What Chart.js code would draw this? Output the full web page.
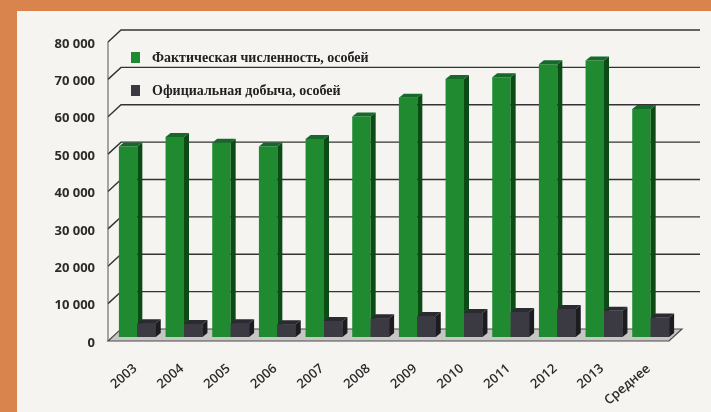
<!DOCTYPE html>
<html>
<head>
<meta charset="utf-8">
<script src="https://cdn.jsdelivr.net/npm/chart.js@4.4.1/dist/chart.umd.min.js"></script>
<style>
  html, body {
    margin: 0;
    padding: 0;
    width: 711px;
    height: 412px;
    overflow: hidden;
    background: #d9844c;
  }

  #paper {
    position: absolute;
    left: 17px;
    top: 11px;
    width: 694px;
    height: 401px;
    background: #f5f4f0;
  }

  #wrap {
    position: absolute;
    left: 0;
    top: 0;
    width: 711px;
    height: 412px;
  }
</style>
</head>
<body>
<div id="paper"></div>
<div id="wrap"><canvas id="mooseChart"></canvas></div>

<script>
const years = ["2003", "2004", "2005", "2006", "2007", "2008", "2009", "2010", "2011", "2012", "2013", "Среднее"];

const populationValues = [51000, 53500, 52000, 51000, 53000, 59000, 64000, 69000, 69500, 73000, 74000, 61000];

const harvestValues = [3700, 3500, 3700, 3400, 4300, 5000, 5600, 6400, 6700, 7500, 7000, 5200];

const seriesNames = ["Фактическая численность, особей", "Официальная добыча, особей"];

const yMax = 80000;
const yStep = 10000;

const faceColors = ["#1f8a2f", "#3b3a42"];
const sideColors = ["#0c4a16", "#1c1b20"];
const topColors = ["#16692a", "#2b2a30"];

function formatThousands(value) {
  return String(value).replace(/\B(?=(\d{3})+(?!\d))/g, " ");
}

// back wall, left wall and floor of the 3d box
const wallPlugin = {
  id: "wall",
  beforeDatasetsDraw(chart) {
    const ctx = chart.ctx;
    const yScale = chart.scales.y;
    const left = chart.chartArea.left - 6;
    const right = 700;
    const dx = 13;
    const dy = 12;

    ctx.save();

    // floor
    const floorFront = yScale.getPixelForValue(0) + 4;
    ctx.fillStyle = "#c6c6c4";
    ctx.beginPath();
    ctx.moveTo(left, floorFront);
    ctx.lineTo(left + dx, floorFront - dy);
    ctx.lineTo(right - 18, floorFront - dy);
    ctx.lineTo(right - 18 - dx, floorFront);
    ctx.closePath();
    ctx.fill();
    ctx.strokeStyle = "#4a4a4a";
    ctx.lineWidth = 1.2;
    ctx.stroke();

    // gridlines
    ctx.strokeStyle = "#333";
    ctx.lineWidth = 1.4;
    for (let v = yStep; v <= yMax; v += yStep) {
      const yf = yScale.getPixelForValue(v) + 4;
      ctx.beginPath();
      ctx.moveTo(left, yf);
      ctx.lineTo(left + dx, yf - dy);
      ctx.lineTo(right, yf - dy);
      ctx.stroke();
    }

    // left axis
    ctx.strokeStyle = "#555";
    ctx.lineWidth = 1;
    ctx.beginPath();
    ctx.moveTo(left, yScale.getPixelForValue(yMax) + 4);
    ctx.lineTo(left, floorFront);
    ctx.stroke();

    ctx.restore();
  },
};

function drawDepth(ctx, meta, index) {
  const dx = 5;
  const dy = 4;

  meta.data.forEach((bar) => {
    const props = bar.getProps(["x", "y", "base", "width"], true);
    const l = props.x - props.width / 2;
    const r = props.x + props.width / 2;

    ctx.fillStyle = sideColors[index];
    ctx.beginPath();
    ctx.moveTo(r, props.y);
    ctx.lineTo(r + dx, props.y - dy);
    ctx.lineTo(r + dx, props.base - dy);
    ctx.lineTo(r, props.base);
    ctx.closePath();
    ctx.fill();

    ctx.fillStyle = topColors[index];
    ctx.beginPath();
    ctx.moveTo(l, props.y);
    ctx.lineTo(l + dx, props.y - dy);
    ctx.lineTo(r + dx, props.y - dy);
    ctx.lineTo(r, props.y);
    ctx.closePath();
    ctx.fill();
  });
}

// side and top faces; the harvest bars go in front of the green side faces
const depthPlugin = {
  id: "depth",
  afterDatasetsDraw(chart) {
    const ctx = chart.ctx;

    ctx.save();

    drawDepth(ctx, chart.getDatasetMeta(0), 0);

    const harvestMeta = chart.getDatasetMeta(1);
    harvestMeta.data.forEach((bar) => bar.draw(ctx));
    drawDepth(ctx, harvestMeta, 1);

    ctx.restore();
  },
};

const legendPlugin = {
  id: "insideLegend",
  afterDatasetsDraw(chart) {
    const ctx = chart.ctx;

    ctx.save();
    ctx.font = "bold 14px 'Liberation Serif'";
    ctx.textBaseline = "middle";
    ctx.textAlign = "left";

    seriesNames.forEach((name, i) => {
      const y = 58 + i * 33;

      ctx.fillStyle = faceColors[i];
      ctx.fillRect(131, y - 6, 9, 11);

      ctx.fillStyle = "#222";
      ctx.fillText(name, 152, y);
    });

    ctx.restore();
  },
};

const canvas = document.getElementById("mooseChart");

new Chart(canvas, {
  type: "bar",

  data: {
    labels: years,

    datasets: [
      {
        label: seriesNames[0],
        data: populationValues,
        backgroundColor: faceColors[0],
      },
      {
        label: seriesNames[1],
        data: harvestValues,
        backgroundColor: faceColors[1],
      },
    ],
  },

  options: {
    responsive: true,
    maintainAspectRatio: false,
    animation: false,

    layout: {
      padding: { top: 38, right: 37, left: 0, bottom: 0 },
    },

    datasets: {
      bar: {
        barPercentage: 1,
        categoryPercentage: 0.79,
      },
    },

    plugins: {
      legend: { display: false },
      tooltip: { enabled: false },
    },

    scales: {
      x: {
        grid: { display: false },
        border: { display: false },
        ticks: {
          minRotation: 40,
          maxRotation: 40,
          padding: 16,
          labelOffset: -2,
          color: "#2b2b2b",
          font: { family: "Open Sans", weight: "600", size: 13 },
        },
        afterFit(scale) {
          scale.height = 75;
        },
      },

      y: {
        min: 0,
        max: yMax,
        grid: { display: false, drawTicks: false },
        border: { display: false },
        ticks: {
          stepSize: yStep,
          padding: 19,
          labelOffset: 6,
          color: "#2b2b2b",
          font: { family: "Open Sans", weight: "bold", size: 13 },
          callback: (value) => formatThousands(value),
        },
        afterFit(scale) {
          scale.width = 114;
        },
      },
    },
  },

  plugins: [wallPlugin, depthPlugin, legendPlugin],
});
</script>
</body>
</html>
